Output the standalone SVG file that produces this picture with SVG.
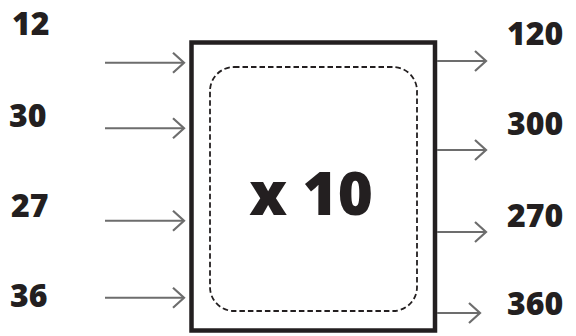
<svg xmlns="http://www.w3.org/2000/svg" width="576" height="336" viewBox="0 0 576 336">
<style>
.lbl{font-family:"Open Sans","Liberation Sans",sans-serif;font-weight:800;font-size:32px;fill:#231f20}
.big{font-family:"Open Sans","Liberation Sans",sans-serif;font-weight:800;font-size:60px;fill:#231f20}
.arr{stroke:#6d6d6d;stroke-width:2;fill:none}
</style>
<defs>
<marker id="chev" markerWidth="14" markerHeight="24" refX="12" refY="12" orient="auto" markerUnits="userSpaceOnUse">
<path d="M1,2 L12,12 L1,22" fill="none" stroke="#6d6d6d" stroke-width="2.2"/>
</marker>
</defs>
<rect width="576" height="336" fill="#fff"/>
<g id="box">
<rect x="191.5" y="42.5" width="243.5" height="288" fill="#fff" stroke="#231f20" stroke-width="4.5"/>
<rect x="210" y="67" width="207" height="244" rx="24" fill="none" stroke="#231f20" stroke-width="1.8" stroke-dasharray="5.5 3"/>
<text class="big" x="311" y="215" text-anchor="middle">x 10</text>
</g>
<g id="connectors">
<line class="arr" x1="105" y1="62.7" x2="184" y2="62.7" marker-end="url(#chev)"/>
<line class="arr" x1="105" y1="128.3" x2="184" y2="128.3" marker-end="url(#chev)"/>
<line class="arr" x1="105" y1="220.7" x2="184" y2="220.7" marker-end="url(#chev)"/>
<line class="arr" x1="105" y1="297.7" x2="184" y2="297.7" marker-end="url(#chev)"/>
<line class="arr" x1="437" y1="61" x2="486" y2="61" marker-end="url(#chev)"/>
<line class="arr" x1="437" y1="150" x2="486" y2="150" marker-end="url(#chev)"/>
<line class="arr" x1="437" y1="232" x2="486" y2="232" marker-end="url(#chev)"/>
<line class="arr" x1="437" y1="313" x2="480" y2="313" marker-end="url(#chev)"/>
</g>
<g id="inputs">
<text class="lbl" x="12" y="35">12</text>
<text class="lbl" x="9" y="127">30</text>
<text class="lbl" x="11" y="217">27</text>
<text class="lbl" x="10" y="307">36</text>
</g>
<g id="outputs">
<text class="lbl" x="507" y="45">120</text>
<text class="lbl" x="507" y="135">300</text>
<text class="lbl" x="507" y="227">270</text>
<text class="lbl" x="507" y="315">360</text>
</g>
</svg>
